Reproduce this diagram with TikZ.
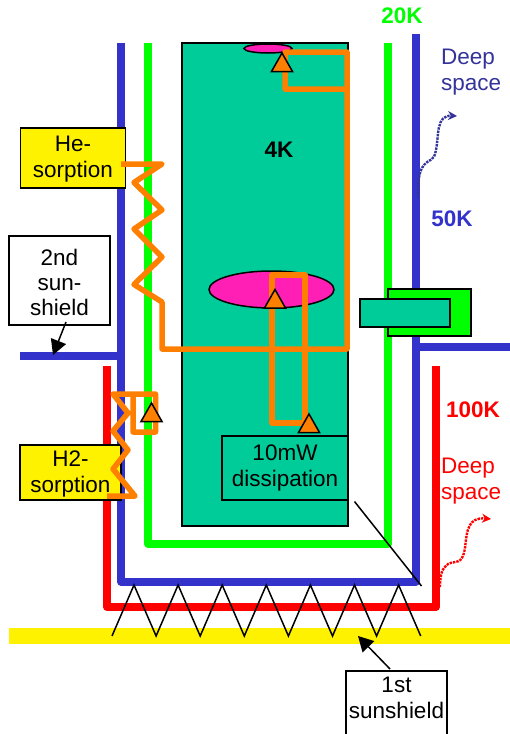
\documentclass[tikz,border=0pt]{standalone}
\usepackage{fontspec}
\setmainfont{Liberation Sans}
\usepackage{tikz}
\usetikzlibrary{arrows.meta}
\definecolor{shieldblue}{HTML}{3333CC}
\definecolor{spaceblue}{HTML}{333399}
\definecolor{coldgreen}{HTML}{00FF00}
\definecolor{coldteal}{HTML}{00CC99}
\definecolor{hotpink}{HTML}{FF1FB4}
\definecolor{pipeorange}{HTML}{FF8000}
\tikzset{wall/.style={line width=8pt,line join=round},pipe/.style={draw=pipeorange,line width=5.5pt,line join=round},labelbox/.style={draw=black,line width=1.5pt,align=center,inner sep=0pt,font=\fontsize{22.5}{26}\selectfont},temp/.style={font=\fontsize{22.5}{26}\selectfont\bfseries},deep/.style={align=left,anchor=west,inner sep=0pt,font=\fontsize{22.5}{26}\selectfont},pointer/.style={-{Triangle[length=15pt,width=16pt]},line width=1.5pt},leak/.style={-{Stealth[length=9pt,width=9pt]},line width=2.4pt,densely dotted}}
\begin{document}
\begin{tikzpicture}[x=1pt,y=-1pt,outline/.style={draw=black,line width=1.5pt}]
\useasboundingbox (0,0) rectangle (510,734);
\fill[yellow] (9,628) rectangle (510,644);
\draw[wall,red] (107,366)--(107,607)--(436,607)--(436,366);
\draw[wall,shieldblue] (121,43)--(121,581.5)--(416,581.5)--(416,34);
\draw[wall,shieldblue] (20,355.5)--(121,355.5);
\draw[wall,shieldblue] (416,347)--(510,347);
\draw[wall,coldgreen] (148,43)--(148,544)--(388,544)--(388,43);
\draw[outline,fill=coldteal] (182,43) rectangle (348,526);
\draw[outline,fill=hotpink] (268,48.5) ellipse (24 and 4.5);
\draw[outline,fill=hotpink] (271.5,289.5) ellipse (62.5 and 18.5);
\draw[outline,fill=coldgreen] (388,289) rectangle (471,336);
\draw[outline,fill=coldteal] (360,299) rectangle (450,327);
\node[labelbox,fill=yellow,minimum width=105pt,minimum height=60pt] (hesorption) at (73,158) {\rule{0pt}{18pt}He-\\sorption};
\node[labelbox,fill=yellow,minimum width=101pt,minimum height=55pt] (htwosorption) at (70.5,472.5) {\rule{0pt}{18pt}H2-\\sorption};
\node[labelbox,fill=white,minimum width=101pt,minimum height=89pt,font=\fontsize{22.5}{25}\selectfont] (secondshield) at (59.5,280.5) {\rule{0pt}{20pt}2nd\\sun-\\shield};
\node[labelbox,fill=white,minimum width=101pt,anchor=north] (firstshield) at (396.5,670) {\rule{0pt}{22pt}1st\\sunshield\\\mbox{}};
\node[labelbox,fill=coldteal,minimum width=126pt,minimum height=64pt] (dissipation) at (285,468) {10mW\\dissipation};
% cooling lines
\draw[pipe] (121,164)--(162,164)--(134,182.5)--(162,210)--(134,229)--(162,257)--(134,284.5)--(162,302)--(162,349)--(347,349)--(347,52)--(285,52)--(285,89)--(347,89);
\draw[pipe] (272,275) rectangle (305,423);
\draw[pipe] (107,496)--(135,496)--(113,469)--(128,450)--(113,431)--(128,413)--(113,394)--(155.5,394)--(155.5,432)--(133,432)--(133,394);
\foreach \x/\y in {282/53,275/289.5,309/414,151.5/403}{\draw[outline,fill=pipeorange,line join=miter] (\x,\y)--++(-10.5,18.5)--++(21,0)--cycle;}
% struts to the sunshield
\draw[black,line width=1.5pt] (112,636) \foreach \i in {0,...,6}{--({134+44.1*\i},585)--({156.1+44.1*\i},636)};
\draw[black,line width=1.5pt] (354.5,501.5)--(421.5,586);
\coordinate (secondtip) at (53,355);
\coordinate (firsttip) at (358,636);
\draw[pointer] (66,322)--(secondtip);
\draw[pointer] (390,669)--(firsttip);
\node[temp,text=coldgreen] (twenty) at (402,16) {20K};
\node[temp,text=shieldblue] (fifty) at (452,219) {50K};
\node[temp,text=black] (four) at (279,150) {4K};
\node[temp,text=red] (hundred) at (473,410) {100K};
\node[deep,text=spaceblue] (spacetop) at (441,72) {Deep\\space};
\node[deep,text=red] (spacelow) at (441,481) {Deep\\space};
\draw[leak,spaceblue] (418,198) .. controls (418,185) and (418,172) .. (424,165) .. controls (430,158) and (434,162) .. (436,150) .. controls (439,135) and (436,115) .. (457,116);
\draw[leak,red] (440,587) .. controls (440,575) and (442,568) .. (448,564) .. controls (456,560) and (462,566) .. (465,548) .. controls (467,530) and (468,517) .. (491,519);
\end{tikzpicture}
\end{document}
